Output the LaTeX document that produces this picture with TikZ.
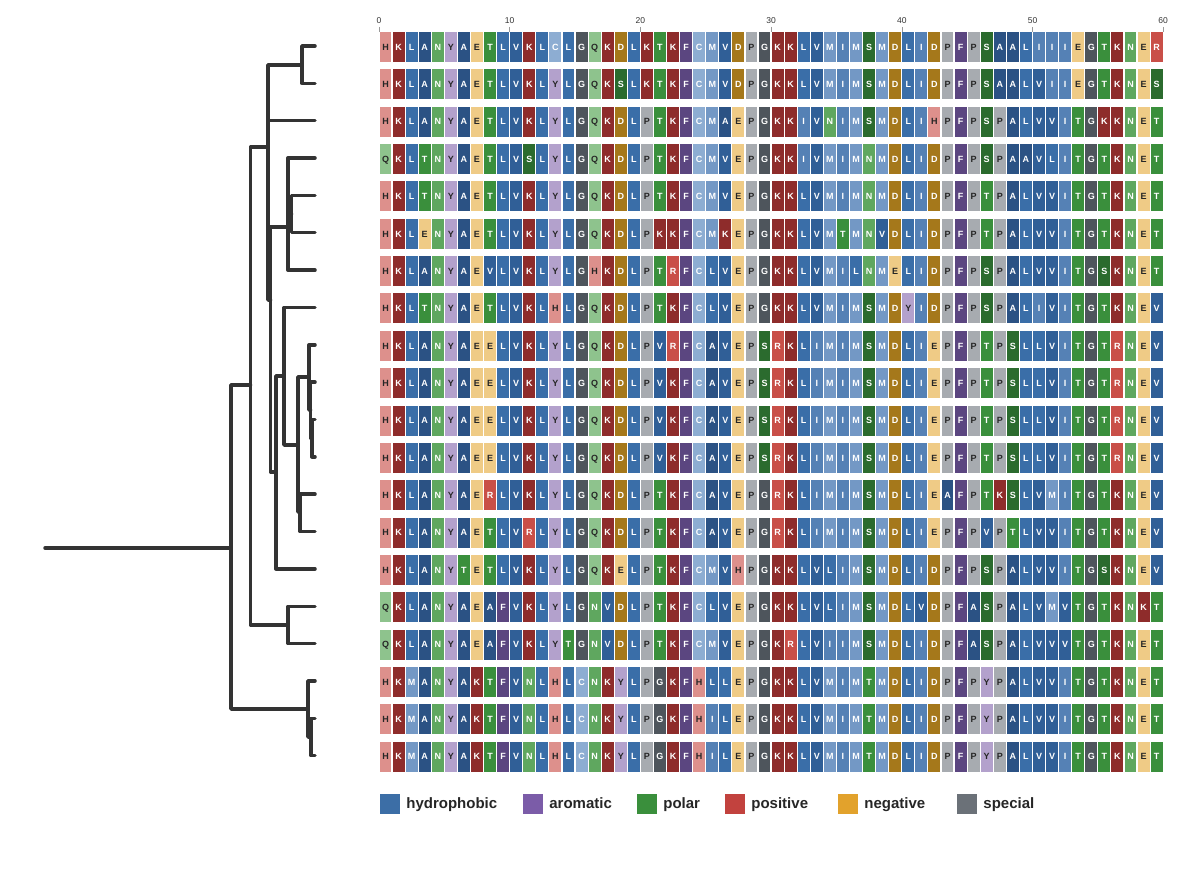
\documentclass[tikz,border=0pt]{standalone}
\usepackage{fontspec}
\setmainfont{Liberation Sans}
\usepackage{tikz}
\usetikzlibrary{positioning}

% residue colours
\definecolor{resH}{HTML}{DD908C}
\definecolor{resK}{HTML}{8E2C2B}
\definecolor{resR}{HTML}{C94F48}
\definecolor{resL}{HTML}{3A6EA8}
\definecolor{resA}{HTML}{2B5284}
\definecolor{resV}{HTML}{305F97}
\definecolor{resI}{HTML}{5581B5}
\definecolor{resM}{HTML}{7398C5}
\definecolor{resC}{HTML}{8DADD2}
\definecolor{resF}{HTML}{5B4680}
\definecolor{resY}{HTML}{B3A1CC}
\definecolor{resN}{HTML}{5FA75F}
\definecolor{resQ}{HTML}{8EC38D}
\definecolor{resS}{HTML}{2B6B2E}
\definecolor{resT}{HTML}{3A8F3C}
\definecolor{resD}{HTML}{A5781B}
\definecolor{resE}{HTML}{EFCB86}
\definecolor{resG}{HTML}{4E555C}
\definecolor{resP}{HTML}{A7ABB0}
\definecolor{darktxt}{HTML}{262626}
% letter colours
\colorlet{txtK}{white}
\colorlet{txtR}{white}
\colorlet{txtL}{white}
\colorlet{txtA}{white}
\colorlet{txtV}{white}
\colorlet{txtI}{white}
\colorlet{txtM}{white}
\colorlet{txtC}{white}
\colorlet{txtF}{white}
\colorlet{txtN}{white}
\colorlet{txtS}{white}
\colorlet{txtT}{white}
\colorlet{txtD}{white}
\colorlet{txtG}{white}
\colorlet{txtH}{darktxt}
\colorlet{txtY}{darktxt}
\colorlet{txtQ}{darktxt}
\colorlet{txtE}{darktxt}
\colorlet{txtP}{darktxt}
% legend colours
\definecolor{leghyd}{HTML}{3C6EA6}
\definecolor{legaro}{HTML}{7B5CA8}
\definecolor{legpol}{HTML}{3A8F3C}
\definecolor{legpos}{HTML}{C2423E}
\definecolor{legneg}{HTML}{E2A22C}
\definecolor{legspe}{HTML}{6B7178}
\definecolor{treegray}{HTML}{333333}
\definecolor{tickgray}{HTML}{9A9A9A}

\begin{document}
\begin{tikzpicture}[
  x=1pt, y=-1pt,
  branch/.style={draw=treegray, line width=3.5pt, line cap=round, line join=round},
  cell/.style={minimum width=11.9pt, minimum height=30pt, inner sep=0pt,
    text height=6.6pt, text depth=0pt,
    font=\bfseries\fontsize{9}{10}\selectfont},
  res/.style={cell, fill=res#1, text=txt#1},
  tick/.style={draw=tickgray, line width=0.6pt},
  ticklabel/.style={font=\fontsize{8.5}{9}\selectfont, text=treegray, inner sep=0pt},
  legbox/.style={minimum size=20pt, inner sep=0pt},
  legtext/.style={font=\bfseries\fontsize{15}{16}\selectfont, text=darktxt,
    inner sep=0pt, text height=11pt, text depth=3pt}
]
\useasboundingbox (0,0) rectangle (1200,877);

% axis
\foreach \k in {0,...,6} {
  \pgfmathtruncatemacro{\lab}{10*\k}
  \node[ticklabel] (tk\k) at ({379+130.7*\k},21) {\lab};
  \draw[tick] ({379+130.7*\k},27) -- ({379+130.7*\k},32);
}

% alignment
\foreach \row/\seq in {
  1/{H,K,L,A,N,Y,A,E,T,L,V,K,L,C,L,G,Q,K,D,L,K,T,K,F,C,M,V,D,P,G,K,K,L,V,M,I,M,S,M,D,L,I,D,P,F,P,S,A,A,L,I,I,I,E,G,T,K,N,E,R},
  2/{H,K,L,A,N,Y,A,E,T,L,V,K,L,Y,L,G,Q,K,S,L,K,T,K,F,C,M,V,D,P,G,K,K,L,V,M,I,M,S,M,D,L,I,D,P,F,P,S,A,A,L,V,I,I,E,G,T,K,N,E,S},
  3/{H,K,L,A,N,Y,A,E,T,L,V,K,L,Y,L,G,Q,K,D,L,P,T,K,F,C,M,A,E,P,G,K,K,I,V,N,I,M,S,M,D,L,I,H,P,F,P,S,P,A,L,V,V,I,T,G,K,K,N,E,T},
  4/{Q,K,L,T,N,Y,A,E,T,L,V,S,L,Y,L,G,Q,K,D,L,P,T,K,F,C,M,V,E,P,G,K,K,I,V,M,I,M,N,M,D,L,I,D,P,F,P,S,P,A,A,V,L,I,T,G,T,K,N,E,T},
  5/{H,K,L,T,N,Y,A,E,T,L,V,K,L,Y,L,G,Q,K,D,L,P,T,K,F,C,M,V,E,P,G,K,K,L,V,M,I,M,N,M,D,L,I,D,P,F,P,T,P,A,L,V,V,I,T,G,T,K,N,E,T},
  6/{H,K,L,E,N,Y,A,E,T,L,V,K,L,Y,L,G,Q,K,D,L,P,K,K,F,C,M,K,E,P,G,K,K,L,V,M,T,M,N,V,D,L,I,D,P,F,P,T,P,A,L,V,V,I,T,G,T,K,N,E,T},
  7/{H,K,L,A,N,Y,A,E,V,L,V,K,L,Y,L,G,H,K,D,L,P,T,R,F,C,L,V,E,P,G,K,K,L,V,M,I,L,N,M,E,L,I,D,P,F,P,S,P,A,L,V,V,I,T,G,S,K,N,E,T},
  8/{H,K,L,T,N,Y,A,E,T,L,V,K,L,H,L,G,Q,K,D,L,P,T,K,F,C,L,V,E,P,G,K,K,L,V,M,I,M,S,M,D,Y,I,D,P,F,P,S,P,A,L,I,V,I,T,G,T,K,N,E,V},
  9/{H,K,L,A,N,Y,A,E,E,L,V,K,L,Y,L,G,Q,K,D,L,P,V,R,F,C,A,V,E,P,S,R,K,L,I,M,I,M,S,M,D,L,I,E,P,F,P,T,P,S,L,L,V,I,T,G,T,R,N,E,V},
  10/{H,K,L,A,N,Y,A,E,E,L,V,K,L,Y,L,G,Q,K,D,L,P,V,K,F,C,A,V,E,P,S,R,K,L,I,M,I,M,S,M,D,L,I,E,P,F,P,T,P,S,L,L,V,I,T,G,T,R,N,E,V},
  11/{H,K,L,A,N,Y,A,E,E,L,V,K,L,Y,L,G,Q,K,D,L,P,V,K,F,C,A,V,E,P,S,R,K,L,I,M,I,M,S,M,D,L,I,E,P,F,P,T,P,S,L,L,V,I,T,G,T,R,N,E,V},
  12/{H,K,L,A,N,Y,A,E,E,L,V,K,L,Y,L,G,Q,K,D,L,P,V,K,F,C,A,V,E,P,S,R,K,L,I,M,I,M,S,M,D,L,I,E,P,F,P,T,P,S,L,L,V,I,T,G,T,R,N,E,V},
  13/{H,K,L,A,N,Y,A,E,R,L,V,K,L,Y,L,G,Q,K,D,L,P,T,K,F,C,A,V,E,P,G,R,K,L,I,M,I,M,S,M,D,L,I,E,A,F,P,T,K,S,L,V,M,I,T,G,T,K,N,E,V},
  14/{H,K,L,A,N,Y,A,E,T,L,V,R,L,Y,L,G,Q,K,D,L,P,T,K,F,C,A,V,E,P,G,R,K,L,I,M,I,M,S,M,D,L,I,E,P,F,P,V,P,T,L,V,V,I,T,G,T,K,N,E,V},
  15/{H,K,L,A,N,Y,T,E,T,L,V,K,L,Y,L,G,Q,K,E,L,P,T,K,F,C,M,V,H,P,G,K,K,L,V,L,I,M,S,M,D,L,I,D,P,F,P,S,P,A,L,V,V,I,T,G,S,K,N,E,V},
  16/{Q,K,L,A,N,Y,A,E,A,F,V,K,L,Y,L,G,N,V,D,L,P,T,K,F,C,L,V,E,P,G,K,K,L,V,L,I,M,S,M,D,L,V,D,P,F,A,S,P,A,L,V,M,V,T,G,T,K,N,K,T},
  17/{Q,K,L,A,N,Y,A,E,A,F,V,K,L,Y,T,G,N,V,D,L,P,T,K,F,C,M,V,E,P,G,K,R,L,V,I,I,M,S,M,D,L,I,D,P,F,A,S,P,A,L,V,V,V,T,G,T,K,N,E,T},
  18/{H,K,M,A,N,Y,A,K,T,F,V,N,L,H,L,C,N,K,Y,L,P,G,K,F,H,L,L,E,P,G,K,K,L,V,M,I,M,T,M,D,L,I,D,P,F,P,Y,P,A,L,V,V,I,T,G,T,K,N,E,T},
  19/{H,K,M,A,N,Y,A,K,T,F,V,N,L,H,L,C,N,K,Y,L,P,G,K,F,H,I,L,E,P,G,K,K,L,V,M,I,M,T,M,D,L,I,D,P,F,P,Y,P,A,L,V,V,I,T,G,T,K,N,E,T},
  20/{H,K,M,A,N,Y,A,K,T,F,V,N,L,H,L,C,N,K,Y,L,P,G,K,F,H,I,L,E,P,G,K,K,L,V,M,I,M,T,M,D,L,I,D,P,F,P,Y,P,A,L,V,V,I,T,G,T,K,N,E,T}}{
  \foreach \aa [count=\col from 0] in \seq
    \node[res=\aa] (c\row-\col) at ({385.5+13.07*\col},{47+37.35*(\row-1)}) {\aa};
}

% tree
\foreach \i in {1,...,20}
  \coordinate (t\i) at (315,{46+37.35*(\i-1)});
\coordinate (base) at (45,548);
\coordinate (root) at (231,548);
\coordinate (U) at (250.5,385);
\coordinate (L3) at (308,709);
\coordinate (A) at (268,147);
\coordinate (P) at (288,625);
\coordinate (C12) at (302,65);
\coordinate (B) at (270.5,300);
\coordinate (C47) at (288,227);
\coordinate (N56) at (291.5,214);
\coordinate (E) at (276,472);
\coordinate (F) at (284,376);
\coordinate (G) at (298,445);
\coordinate (H) at (309,377);
\coordinate (H2) at (310.5,410);
\coordinate (H3) at (312,438);
\coordinate (I) at (300,512);
\coordinate (M) at (311,737);

\draw[branch] (base) -- (root);
\foreach \p/\c in {root/U, root/L3, U/A, U/P, A/C12, A/t3, A/B, B/C47, B/E,
  C12/t1, C12/t2, C47/t4, C47/N56, C47/t7, N56/t5, N56/t6, E/F, E/t15,
  F/t8, F/G, G/H, G/I, H/t9, H/H2, H2/t10, H2/H3, H3/t11, H3/t12,
  I/t13, I/t14, P/t16, P/t17, L3/t18, L3/M, M/t19, M/t20}
  \draw[branch] (\p) |- (\c);

% legend
\foreach \n/\x/\c/\t in {1/390/leghyd/hydrophobic, 2/533/legaro/aromatic,
  3/647/legpol/polar, 4/735/legpos/positive, 5/848/legneg/negative,
  6/967/legspe/special} {
  \node[legbox, fill=\c] (lg\n) at (\x,804) {};
  \node[legtext, right=6pt of lg\n] (lt\n) {\t};
}
\end{tikzpicture}
\end{document}
